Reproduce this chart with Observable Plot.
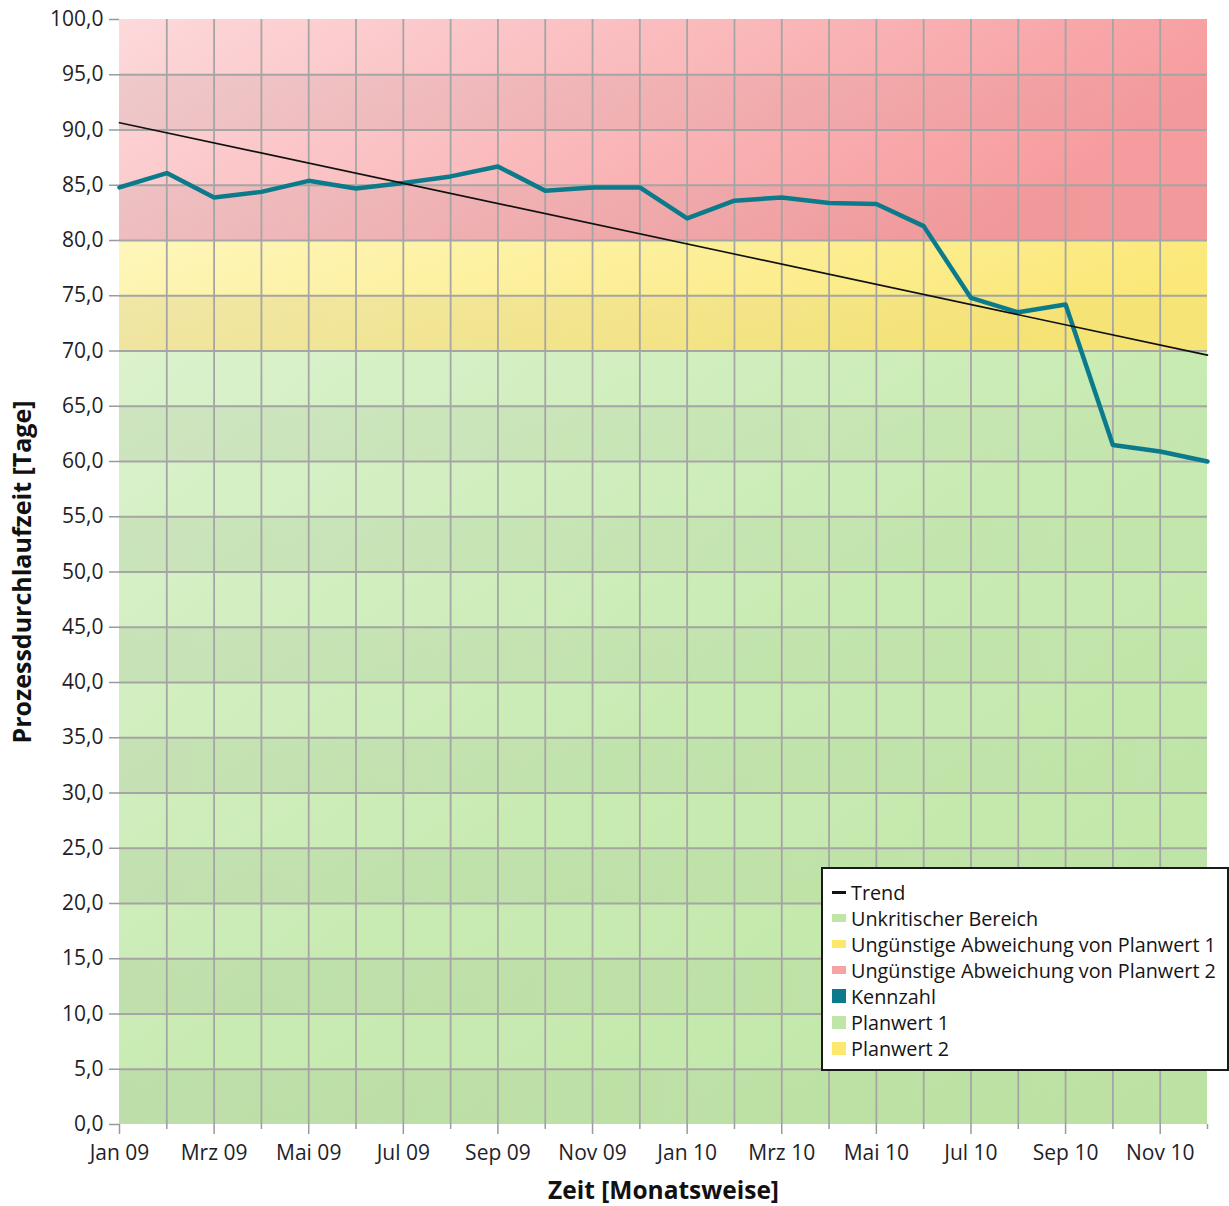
<!DOCTYPE html>
<html>
<head>
<meta charset="utf-8">
<script src="https://cdn.jsdelivr.net/npm/d3@7"></script>
<script src="https://cdn.jsdelivr.net/npm/@observablehq/plot@0.6"></script>
<style>
  html, body { margin: 0; padding: 0; background: #fff; }
  #wrap { position: relative; width: 1229px; height: 1206px; font-family: "Open Sans", sans-serif; }
  #legend { position: absolute; left: 821px; top: 867px; width: 408px; height: 204px; box-sizing: border-box;
            border: 2px solid #1a1a1a; background: #fff; padding-top: 10px; }
  .row { display: flex; align-items: center; height: 26px; font-size: 19.8px; color: #151515; white-space: nowrap; }
  .sw { width: 14px; margin-left: 9px; margin-right: 5px; display: flex; align-items: center; justify-content: center; height: 26px; }
  .sw span { display: block; width: 14px; }
</style>
</head>
<body>
<div id="wrap"><div id="chart"></div><div id="legend"></div></div>
<script>
// ---------- data ----------
const months = ["Jan 09","Feb 09","Mrz 09","Apr 09","Mai 09","Jun 09","Jul 09","Aug 09","Sep 09","Okt 09","Nov 09","Dez 09",
                "Jan 10","Feb 10","Mrz 10","Apr 10","Mai 10","Jun 10","Jul 10","Aug 10","Sep 10","Okt 10","Nov 10","Dez 10"];
const kennzahl = [84.8, 86.1, 83.9, 84.4, 85.4, 84.7, 85.2, 85.8, 86.7, 84.5, 84.8, 84.8,
                  82.0, 83.6, 83.9, 83.4, 83.3, 81.3, 74.8, 73.5, 74.2, 61.5, 60.9, 60.0];
const yTicks = [0,5,10,15,20,25,30,35,40,45,50,55,60,65,70,75,80,85,90,95,100];
const bandNames = ["Unkritischer Bereich", "Ungünstige Abweichung von Planwert 1", "Ungünstige Abweichung von Planwert 2"];
const bandLow  = [0, 70, 80];
const bandHigh = [70, 80, 100];
const stripLow  = [0, 10, 20, 30, 40, 50, 60, 70, 80, 90];
const stripHigh = [5, 15, 25, 35, 45, 55, 65, 75, 85, 95];
const legendLabels = ["Trend", "Unkritischer Bereich", "Ungünstige Abweichung von Planwert 1",
                      "Ungünstige Abweichung von Planwert 2", "Kennzahl", "Planwert 1", "Planwert 2"];
const yLabel = "Prozessdurchlaufzeit [Tage]";
const xLabel = "Zeit [Monatsweise]";

// ---------- derived tables ----------
const points = kennzahl.map((v, i) => ({i, v, month: months[i]}));
const lastIdx = months.length - 1;
const bandFills = ["url(#gGreen)", "url(#gYellow)", "url(#gRed)"];
const bands = bandNames.map((name, k) => ({name, lo: bandLow[k], hi: bandHigh[k], x1: 0, x2: lastIdx}));
const strips = stripLow.map((lo, k) => ({lo, hi: stripHigh[k], x1: 0, x2: lastIdx}));
const monthIdx = months.map((m, i) => i);
const innerMonths = monthIdx.filter(i => i > 0 && i < lastIdx);
const innerY = yTicks.filter(v => v > 0 && v < 100);
const labeledMonths = monthIdx.filter(i => i % 2 === 0);
const minorMonths = monthIdx.filter(i => i % 2 === 1);
const fmt = d => d.toFixed(1).replace(".", ",");

const chart = Plot.plot({
  width: 1229,
  height: 1206,
  marginLeft: 119,
  marginRight: 22,
  marginTop: 19,
  marginBottom: 82,
  style: {fontFamily: "Open Sans, sans-serif", background: "transparent", color: "#1e1e1e", overflow: "visible"},
  x: {domain: [0, lastIdx], axis: null},
  y: {domain: [0, 100], axis: null},
  marks: [
    ...bands.map((b, k) => Plot.rect([b], {x1: "x1", x2: "x2", y1: "lo", y2: "hi", fill: bandFills[k]})),
    Plot.rect(strips, {x1: "x1", x2: "x2", y1: "lo", y2: "hi", fill: "url(#gStrip)"}),
    Plot.ruleY(innerY, {stroke: "#a5a5a5", strokeWidth: 1.8}),
    Plot.ruleX(innerMonths, {stroke: "#a5a5a5", strokeWidth: 1.8}),
    Plot.line(points, {x: "i", y: "v", stroke: "#0b7b8b", strokeWidth: 4.5, strokeLinejoin: "round"}),
    Plot.linearRegressionY(points, {x: "i", y: "v", stroke: "#111", strokeWidth: 1.6, ci: 0}),
    Plot.axisY({ticks: yTicks, tickFormat: fmt, tickSize: 10, tickPadding: 6, stroke: "#9a9a9a", strokeWidth: 1.5,
                fill: "#1e1e2a", fontSize: 21, label: null}),
    Plot.axisX({ticks: labeledMonths, tickFormat: i => months[i], tickSize: 10, tickPadding: 11, stroke: "#9a9a9a",
                strokeWidth: 1.5, fill: "#1e1e2a", fontSize: 21, label: null}),
    Plot.axisX({ticks: minorMonths, tickFormat: () => "", tickSize: 5, stroke: "#9a9a9a", strokeWidth: 1.5, label: null}),
    Plot.text([yLabel], {frameAnchor: "left", dx: -97, rotate: -90, textAnchor: "middle", lineAnchor: "middle",
                         fontWeight: "bold", fontSize: 25, fill: "#111"}),
    Plot.text([xLabel], {frameAnchor: "bottom", dy: 67, textAnchor: "middle", lineAnchor: "middle",
                         fontWeight: "bold", fontSize: 24.5, fill: "#111"})
  ]
});

// gradients for the bands
const defs = d3.select(chart).insert("defs", ":first-child");
function grad(id, x2, y2, stops) {
  const g = defs.append("linearGradient").attr("id", id)
    .attr("x1", 0).attr("y1", 0).attr("x2", x2).attr("y2", y2);
  stops.forEach(([o, c, a]) => g.append("stop").attr("offset", o).attr("stop-color", c).attr("stop-opacity", a ?? 1));
}
grad("gGreen", 1, 1, [[0, "#dbf2cd"], [0.5, "#c8ebb2"], [1, "#bfe6a5"]]);
grad("gYellow", 1, 0.3, [[0, "#fef6bb"], [1, "#fbe878"]]);
grad("gRed", 1, 0.3, [[0, "#fdd9db"], [1, "#f79c9e"]]);
grad("gStrip", 1, 0, [[0, "#000", 0.055], [1, "#000", 0.018]]);

document.getElementById("chart").appendChild(chart);

// legend
const legendColors = ["#111", "#bfe6a6", "#fbe86c", "#f7a3a4", "#0b7b8b", "#bfe6a6", "#fbe86c"];
const legendHeights = [3, 8, 8, 8, 14, 13, 13];
const legend = document.getElementById("legend");
legendLabels.forEach((label, k) => {
  const row = document.createElement("div");
  row.className = "row";
  const sw = document.createElement("div");
  sw.className = "sw";
  const s = document.createElement("span");
  s.style.background = legendColors[k];
  s.style.height = legendHeights[k] + "px";
  sw.appendChild(s);
  const t = document.createElement("div");
  t.textContent = label;
  row.appendChild(sw);
  row.appendChild(t);
  legend.appendChild(row);
});
</script>
</body>
</html>
